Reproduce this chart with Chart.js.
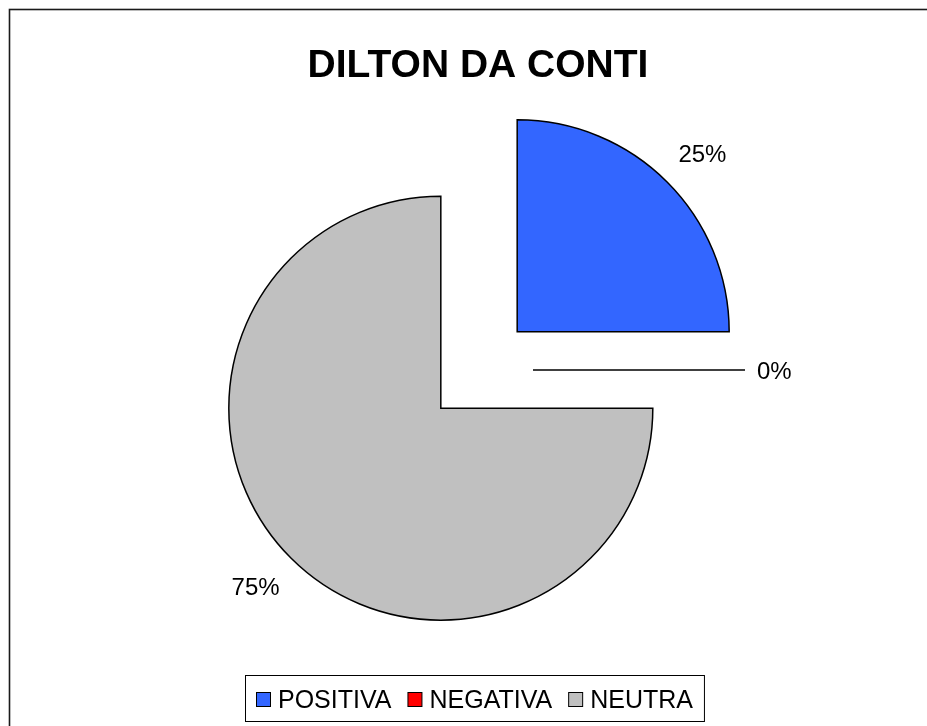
<!DOCTYPE html>
<html>
<head>
<meta charset="utf-8">
<script src="https://cdn.jsdelivr.net/npm/chart.js@4.4.1/dist/chart.umd.min.js"></script>
<style>
  html, body { margin: 0; padding: 0; background: #fff; }
  canvas { display: block; }
</style>
</head>
<body>
<canvas id="pieChart" width="927" height="726"></canvas>
<script>
// Chart data
const chartTitle = 'DILTON DA CONTI';
const categories = ['POSITIVA', 'NEGATIVA', 'NEUTRA'];
const shares = [25, 0, 75];

// Styling
const sliceColors = ['#3366FF', '#FF0000', '#C0C0C0'];
const FONT = "'Liberation Sans', Arial, sans-serif";

// how far each slice is pulled out of the centre, in px
// (Chart.js's own "offset" also shrinks/grows big slices, so we explode them ourselves)
const EXPLODE = 54;

// Background, frame, title and legend box
const frameAndText = {
    id: 'frameAndText',
    beforeDraw(chart) {
        const ctx = chart.ctx;
        ctx.save();
        ctx.fillStyle = '#fff';
        ctx.fillRect(0, 0, chart.width, chart.height);
        ctx.strokeStyle = '#1a1a1a';
        ctx.lineWidth = 1.6;
        ctx.strokeRect(9.5, 9.5, chart.width + 20, chart.height + 20);
        ctx.restore();
    },
    afterDraw(chart) {
        const ctx = chart.ctx;
        ctx.save();
        // title
        ctx.fillStyle = '#000';
        ctx.font = 'bold 39px ' + FONT;
        ctx.textAlign = 'center';
        ctx.textBaseline = 'alphabetic';
        ctx.fillText(chartTitle, 478, 77);

        // legend
        ctx.font = '25px ' + FONT;
        ctx.textAlign = 'left';
        const box = 15, gap = 7, spacing = 16;
        const widths = categories.map(c => ctx.measureText(c).width);
        const groupW = widths.reduce((a, w) => a + box + gap + w, 0) + spacing * (categories.length - 1);
        let x = Math.round(474 - groupW / 2);
        ctx.strokeStyle = '#000';
        ctx.lineWidth = 1;
        ctx.strokeRect(x - 11 + 0.5, 675.5, groupW + 22, 46);
        categories.forEach((c, i) => {
            ctx.fillStyle = sliceColors[i];
            ctx.fillRect(x + 0.5, 692.5, box - 1, box - 1);
            ctx.strokeRect(x + 0.5, 692.5, box - 1, box - 1);
            ctx.fillStyle = '#000';
            ctx.fillText(c, x + box + gap, 708);
            x += box + gap + widths[i] + spacing;
        });
        ctx.restore();
    }
};

// Draw the arcs pulled out along their mid angle, plus zero slices and % labels
const explodedSlices = {
    id: 'explodedSlices',
    beforeDatasetsDraw(chart) {
        const ctx = chart.ctx;
        const meta = chart.getDatasetMeta(0);
        const total = shares.reduce((a, b) => a + b, 0);

        meta.data.forEach((arc, i) => {
            const p = arc.getProps(['x', 'y', 'startAngle', 'endAngle', 'outerRadius', 'circumference'], true);
            const mid = (p.startAngle + p.endAngle) / 2;
            const cos = Math.cos(mid), sin = Math.sin(mid);
            const cx = p.x + cos * EXPLODE;
            const cy = p.y + sin * EXPLODE;
            const r = p.outerRadius;

            ctx.save();
            ctx.translate(cos * EXPLODE, sin * EXPLODE);
            arc.draw(ctx);
            ctx.restore();

            // Chart.js skips empty arcs: draw the 0% slice as its edge line
            if (p.circumference === 0) {
                ctx.save();
                ctx.strokeStyle = '#000';
                ctx.lineWidth = 1.5;
                ctx.beginPath();
                ctx.moveTo(cx, cy);
                ctx.lineTo(cx + cos * r, cy + sin * r);
                ctx.stroke();
                ctx.restore();
            }

            // percentage label outside the slice
            ctx.save();
            ctx.font = '24px ' + FONT;
            ctx.fillStyle = '#000';
            ctx.textAlign = 'center';
            ctx.textBaseline = 'alphabetic';
            const txt = Math.round(shares[i] / total * 100) + '%';
            const w = ctx.measureText(txt).width;
            const h = 17;
            const diag = Math.abs(Math.sin(2 * mid));
            const delta = 12 + 10 * diag;
            const dist = r + delta + Math.abs(cos) * w / 2 + Math.abs(sin) * h / 2;
            const lx = cx + cos * (dist + 5 * diag);
            const ly = cy + sin * (dist - 5 * diag);
            ctx.fillText(txt, lx, ly + h / 2);
            ctx.restore();
        });
        return false;
    }
};

const ctx = document.getElementById('pieChart').getContext('2d');
new Chart(ctx, {
    type: 'pie',
    data: {
        labels: categories,
        datasets: [{
            data: shares,
            backgroundColor: sliceColors,
            borderColor: '#000',
            borderWidth: 1.5,
            borderJoinStyle: 'miter',
            offset: 0,
            hoverOffset: 0
        }]
    },
    options: {
        responsive: false,
        animation: false,
        devicePixelRatio: 1,
        radius: 212,
        layout: { padding: { left: 200, right: 169, top: 100, bottom: 86 } },
        events: [],
        plugins: {
            legend: { display: false },
            title: { display: false },
            tooltip: { enabled: false }
        }
    },
    plugins: [frameAndText, explodedSlices]
});
</script>
</body>
</html>
